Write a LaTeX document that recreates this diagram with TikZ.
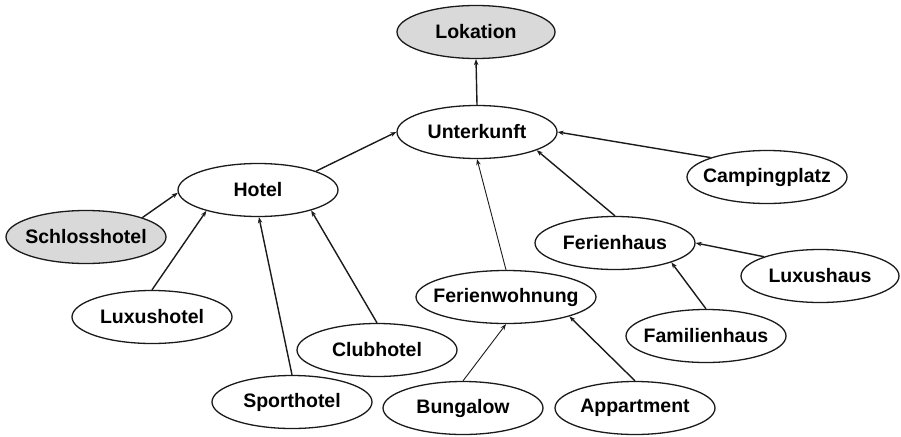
\documentclass[tikz,border=0pt]{standalone}
\usepackage{fontspec}
\setmainfont{Liberation Sans}
\usetikzlibrary{shapes.geometric,arrows.meta}
\definecolor{conceptfill}{HTML}{D9D9D9}
\definecolor{inkline}{HTML}{1A1A1A}
\begin{document}
\begin{tikzpicture}[x=1pt,y=-1pt,
  % the label is boxed at zero width so every ellipse keeps its fixed size
  concept/.style={ellipse,draw=inkline,line width=1.3pt,inner sep=0pt,
    minimum width=160pt,minimum height=53pt,
    execute at begin node={\hbox to 0pt\bgroup\hss},
    execute at end node={\hss\egroup},
    font=\fontsize{19.5}{23}\selectfont\bfseries},
  rootconcept/.style={concept,fill=conceptfill},
  isa/.style={draw=inkline,line width=1.4pt,-{Stealth[length=6pt,width=4.5pt]}},
  isathin/.style={isa,line width=0.9pt}]
\useasboundingbox (0,0) rectangle (901,436);

% concepts
\node[rootconcept,minimum width=158pt] (lok) at (476,32) {Lokation};
\node[concept] (unt) at (477,132) {Unterkunft};
\node[concept] (hot) at (258,190) {Hotel};
\node[rootconcept] (schl) at (86,237) {Schlosshotel};
\node[concept] (luxh) at (152,317) {Luxushotel};
\node[concept] (sport) at (292,402) {Sporthotel};
\node[concept] (club) at (377,350) {Clubhotel};
\node[concept,minimum width=180pt] (fw) at (506,297) {Ferienwohnung};
\node[concept] (bung) at (463,408) {Bungalow};
\node[concept] (app) at (635,408) {Appartment};
\node[concept] (fh) at (615,243) {Ferienhaus};
\node[concept] (camp) at (767,177) {Campingplatz};
\node[concept,minimum width=158pt] (luxhaus) at (820,276) {Luxushaus};
\node[concept] (fam) at (706,336) {Familienhaus};

% is-a relations
\draw[isa] (unt.north) -- (lok.south);
\draw[isa] (hot.18) -- (unt.west);
\draw[isa] (schl.19) -- (hot.182);
\draw[isa] (luxh.north) -- (hot.202);
\draw[isa] (sport.north) -- (hot.272);
\draw[isa] (club.north) -- (hot.-21);
\draw[isathin] (fw.north) -- (unt.south);
\draw[isa] (fh.north) -- (unt.-17);
\draw[isa] (camp.161) -- (unt.east);
\draw[isa] (luxhaus.161) -- (fh.east);
\draw[isa] (fam.north) -- (fh.-19);
\draw[isathin] (bung.north) -- (fw.south);
\draw[isa] (app.north) -- (fw.-17);
\end{tikzpicture}
\end{document}
